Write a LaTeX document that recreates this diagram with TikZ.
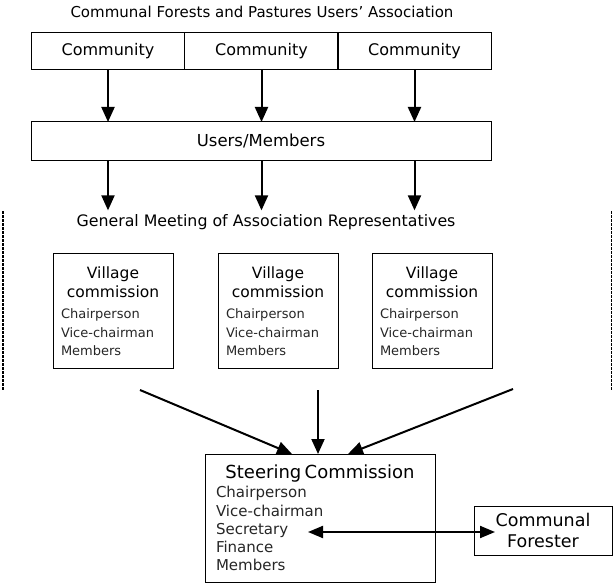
\documentclass[tikz,border=0pt]{standalone}
\usepackage{fontspec}
\setmainfont{DejaVu Sans}
\usetikzlibrary{arrows.meta}

\begin{document}
\begin{tikzpicture}[
        x=1pt, y=-1pt,
        arr/.style={-{Triangle[width=13pt,length=15pt]}, line width=2pt},
        darr/.style={{Triangle[width=12pt,length=15pt]}-{Triangle[width=12pt,length=15pt]}, line width=2pt},
        sideline/.style={dashed, dash pattern=on 2.5pt off 1.5pt, line width=1.1pt}
    ]

    \tikzstyle{every node}=[inner sep=0pt, outer sep=0pt]
    \tikzstyle{cbox}=[draw, line width=1pt, minimum width=153.3pt, minimum height=37pt, font=\fontsize{16}{19}\selectfont]
    \tikzstyle{vbox}=[draw, line width=1pt, minimum width=120pt, minimum height=115pt, text width=104pt, inner xsep=8pt]
    \tikzstyle{sbox}=[draw, line width=1pt, minimum width=230pt, minimum height=128pt, text width=208pt, inner xsep=11pt]

    \newcommand{\vhead}[2]{{\centering\fontsize{15.5}{19}\selectfont #1\\#2\par}\vspace{3pt}}
    \newcommand{\vbody}[1]{{\fontsize{13}{18.5}\selectfont\color{black!85}#1\par}}

    \useasboundingbox (0,0) rectangle (613,583);

    \node (title) at (262,12) {\fontsize{15}{18}\selectfont Communal Forests and Pastures Users’ Association};

    \node[cbox] (c1) at (108,51.5) {Community};
    \node[cbox] (c2) at (261.5,51.5) {Community};
    \node[cbox] (c3) at (414.5,51.5) {Community};

    \node[draw, line width=1pt, minimum width=460pt, minimum height=38pt,
        font=\fontsize{16.5}{19}\selectfont] (users) at (261,141) {Users/Members};

    \node[inner ysep=4pt, font=\fontsize{15.8}{19}\selectfont] (meet) at (266,222)
        {General Meeting of Association Representatives};

    \foreach \c in {c1,c2,c3} {
        \draw[arr] (\c.south) -- (\c.south |- users.north);
        \draw[arr] (users.south -| \c) -- (\c |- meet.north);
    }

    % village commissions
    \node[vbox] (v1) at (113,311) {\vhead{Village}{commission}\vbody{Chairperson\\Vice-chairman\\Members}};
    \node[vbox] (v2) at (278,311) {\vhead{Village}{commission}\vbody{Chairperson\\Vice-chairman\\Members}};
    \node[vbox] (v3) at (432,311) {\vhead{Village}{commission}\vbody{Chairperson\\Vice-chairman\\Members}};

    \draw[sideline] (3,211) -- (3,390);
    \draw[sideline] (611.5,211) -- (611.5,390);

    % steering commission
    \node[sbox] (steer) at (320,518)
        {{\centering\fontsize{18}{21}\selectfont Steering Commission\par}\vspace{1pt}%
         {\fontsize{15}{18.3}\selectfont\color{black!85}Chairperson\\Vice-chairman\\Secretary\\Finance\\Members\par}};

    \node[draw, line width=1pt, minimum width=138pt, minimum height=49pt, align=center,
        font=\fontsize{17.5}{21}\selectfont] (forester) at (543,530.5) {Communal\\Forester};

    \coordinate (s1) at (140,390);
    \coordinate (s2) at (318,390);
    \coordinate (s3) at (513,389);
    \draw[arr] (s1) -- ([xshift=-28pt]steer.north);
    \draw[arr] (s2) -- (s2 |- steer.north);
    \draw[arr] (s3) -- ([xshift=28pt]steer.north);

    \coordinate (sec) at (308,532);
    \draw[darr] (sec) -- ([xshift=21pt]sec -| forester.west);

\end{tikzpicture}
\end{document}
